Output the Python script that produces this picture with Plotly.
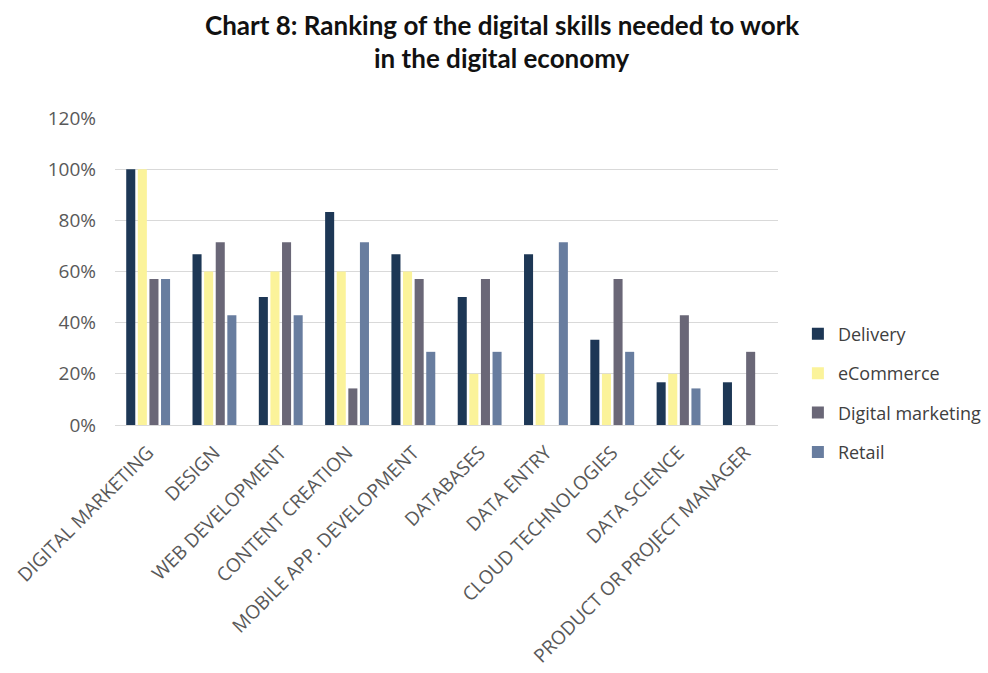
import plotly.graph_objects as go

# Skills ranked, and share of respondents per sector naming each skill
skills = [
    "DIGITAL MARKETING", "DESIGN", "WEB DEVELOPMENT", "CONTENT CREATION",
    "MOBILE APP. DEVELOPMENT", "DATABASES", "DATA ENTRY",
    "CLOUD TECHNOLOGIES", "DATA SCIENCE", "PRODUCT OR PROJECT MANAGER",
]
delivery = [1.0, 0.667, 0.5, 0.833, 0.667, 0.5, 0.667, 0.333, 0.167, 0.167]
ecommerce = [1.0, 0.6, 0.6, 0.6, 0.6, 0.2, 0.2, 0.2, 0.2, 0.0]
digital_marketing = [0.571, 0.714, 0.714, 0.143, 0.571, 0.571, 0.0, 0.571, 0.429, 0.286]
retail = [0.571, 0.429, 0.429, 0.714, 0.286, 0.286, 0.714, 0.286, 0.143, 0.0]

y_ticks = [0, 0.2, 0.4, 0.6, 0.8, 1.0, 1.2]

series = [
    ("Delivery", delivery, "#1d3755"),
    ("eCommerce", ecommerce, "#fbf39a"),
    ("Digital marketing", digital_marketing, "#6a6777"),
    ("Retail", retail, "#687d9f"),
]

fig = go.Figure()
for i, (name, vals, color) in enumerate(series):
    fig.add_trace(go.Bar(
        name=name, x=skills, y=vals, marker_color=color,
        marker_line_width=0, legendgroup=f"g{i}",
    ))

font_family = "Segoe UI, Open Sans, Noto Sans, sans-serif"

title_lines = [
    "Chart 8: Ranking of the digital skills needed to work",
    "in the digital economy",
]
for k, line in enumerate(title_lines):
    fig.add_annotation(
        text=f"<b>{line}</b>", xref="paper", yref="paper",
        x=0.583, y=1.0, yshift=93 - 33 * k, xanchor="center", yanchor="middle",
        showarrow=False,
        font=dict(family="Lato, sans-serif", size=26, color="#111111"),
    )

fig.update_layout(
    width=988, height=673,
    paper_bgcolor="white", plot_bgcolor="white",
    margin=dict(l=115, r=210, t=118, b=248, autoexpand=False),
    barmode="group", bargap=0.3, bargroupgap=0.22,
    font=dict(family=font_family, color="#595959"),
    legend=dict(
        x=1.03, xanchor="left", y=0.104, yanchor="middle",
        font=dict(size=18, color="#404040"),
        traceorder="grouped", tracegroupgap=13,
        itemwidth=30,
        bgcolor="rgba(0,0,0,0)",
    ),
    xaxis=dict(
        tickangle=-45, tickfont=dict(size=19, color="#595959"),
        showline=True, linecolor="#d9d9d9", linewidth=1,
        ticks="", showgrid=False, ticklabelstandoff=8,
    ),
    yaxis=dict(
        range=[0, 1.2], tickvals=y_ticks, tickformat=".0%",
        tickfont=dict(size=19, color="#595959"),
        showgrid=True, gridcolor="#d9d9d9", gridwidth=1,
        zeroline=False, ticks="", ticklen=0, ticklabelstandoff=18,
    ),
)

fig.write_html("out.html")
